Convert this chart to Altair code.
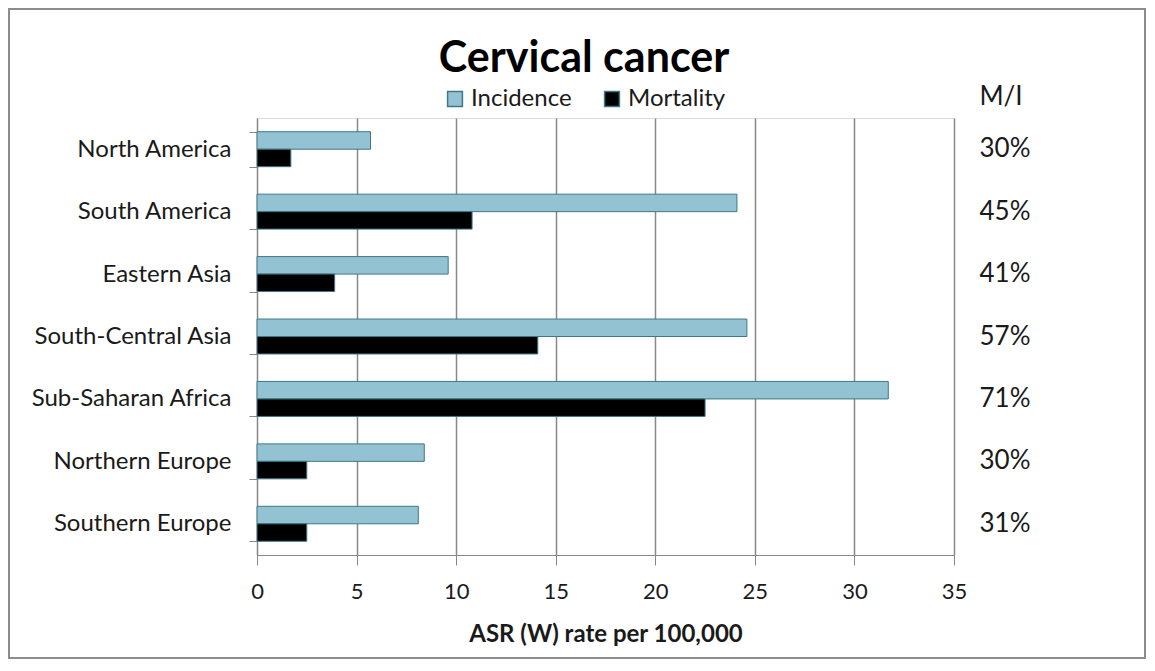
import altair as alt
import pandas as pd

regions = ["North America", "South America", "Eastern Asia", "South-Central Asia",
           "Sub-Saharan Africa", "Northern Europe", "Southern Europe"]
incidence = [5.7, 24.1, 9.6, 24.6, 31.7, 8.4, 8.1]
mortality = [1.7, 10.8, 3.9, 14.1, 22.5, 2.5, 2.5]
mi_ratio = ["30%", "45%", "41%", "57%", "71%", "30%", "31%"]
series = ["Incidence", "Mortality"]
x_ticks = [0, 5, 10, 15, 20, 25, 30, 35]

rows = []
for r, i, m in zip(regions, incidence, mortality):
    rows.append({"Region": r, "Series": "Incidence", "Value": i})
    rows.append({"Region": r, "Series": "Mortality", "Value": m})
df = pd.DataFrame(rows)
mi_df = pd.DataFrame({"Region": regions, "MI": mi_ratio})

W, H = 697, 437
PL, PT, PR, PB = 249, 110, 192, 104
FONT = "Lato"
TXT = "#1a1a1a"

yscale = alt.Scale(domain=regions, paddingInner=0.44, paddingOuter=0.22)

bars = alt.Chart(df).mark_bar(stroke="#3E7886", strokeWidth=1).encode(
    y=alt.Y("Region:N", sort=regions, scale=yscale, title=None,
            axis=alt.Axis(tickBand="extent", labelFontSize=24, labelFont=FONT,
                          labelColor=TXT, tickSize=8, labelPadding=18, labelLimit=400,
                          domainColor="#888888", tickColor="#888888", grid=False)),
    yOffset=alt.YOffset("Series:N", sort=series, scale=alt.Scale(paddingInner=0)),
    x=alt.X("Value:Q", scale=alt.Scale(domain=[0, 35], nice=False),
            title="ASR (W) rate per 100,000",
            axis=alt.Axis(values=x_ticks, labelFontSize=22, labelFont=FONT,
                          labelColor=TXT, tickSize=10, labelPadding=16,
                          labelFlush=False,
                          titleFontSize=24, titleFont=FONT, titleFontWeight="bold",
                          titleColor=TXT, titlePadding=20,
                          grid=True, gridColor="#888888", gridWidth=1.5,
                          domainColor="#888888", tickColor="#888888")),
    color=alt.Color("Series:N", sort=series,
                    scale=alt.Scale(domain=series, range=["#93C3D3", "#000000"]),
                    legend=alt.Legend(title=None, orient="none", direction="horizontal",
                                      legendX=186, legendY=-31, symbolType="square",
                                      symbolSize=220, symbolStrokeColor="#3E7886",
                                      symbolStrokeWidth=1.5, labelFontSize=24,
                                      labelFont=FONT, labelColor=TXT, labelOffset=4,
                                      columnPadding=28)),
)

mi_text = alt.Chart(mi_df).mark_text(fontSize=26, font=FONT, color=TXT, align="center",
                                      baseline="middle").encode(
    y=alt.Y("Region:N", sort=regions, scale=yscale),
    x=alt.value(W + 51),
    text="MI:N",
)

mi_head = alt.Chart(pd.DataFrame({"t": ["M/I"]})).mark_text(
    fontSize=26, font=FONT, color=TXT, align="center", baseline="middle").encode(
    x=alt.value(W + 47), y=alt.value(-21), text="t:N")

title = alt.Chart(pd.DataFrame({"t": ["Cervical cancer"]})).mark_text(
    fontSize=43, font=FONT, fontWeight="bold", color="#000000", align="center",
    baseline="alphabetic").encode(
    x=alt.value(327), y=alt.value(-46), text="t:N")

frame = alt.Chart(pd.DataFrame({"f": [0]})).mark_rect(
    filled=False, stroke="#8c8c8c", strokeWidth=2).encode(
    x=alt.value(-PL + 1), x2=alt.value(W + PR - 1),
    y=alt.value(-PT + 1), y2=alt.value(H + PB - 1))

chart = alt.layer(frame, bars, mi_text, mi_head, title).properties(
    width=W, height=H,
    padding={"left": PL, "top": PT, "right": PR, "bottom": PB},
    autosize=alt.AutoSizeParams(type="none"),
).configure_view(stroke=None).configure(background="white")

chart.save("out.html", embed_options={"renderer": "svg", "actions": False})
